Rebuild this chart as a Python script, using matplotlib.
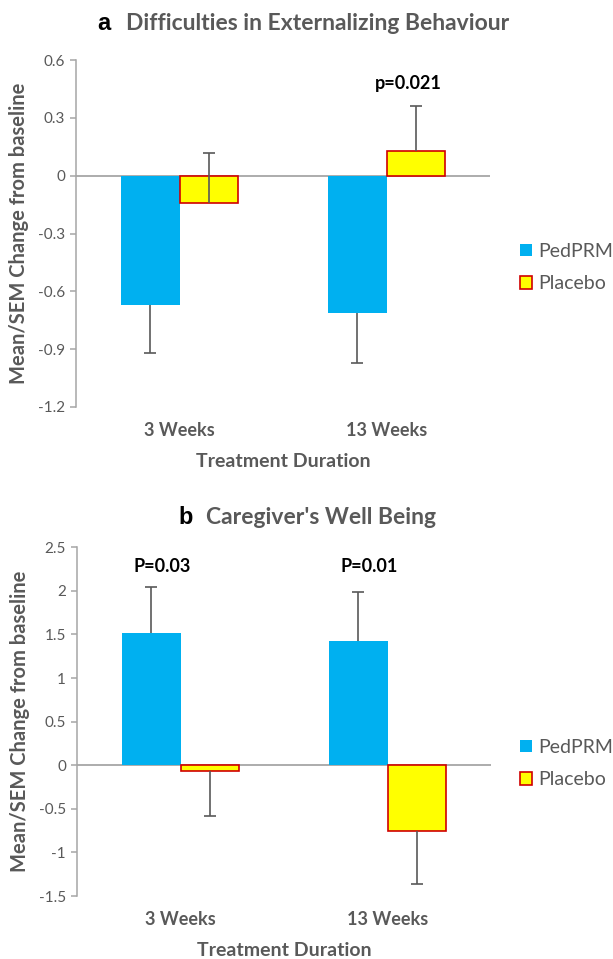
import numpy as np
import matplotlib
matplotlib.use("Agg")
import matplotlib.pyplot as plt
from matplotlib.ticker import FuncFormatter

plt.rcParams["font.family"] = ["Lato", "DejaVu Sans"]
plt.rcParams["axes.unicode_minus"] = False

# --- datos ---
weeks = ["3 Weeks", "13 Weeks"]
groups = ["PedPRM", "Placebo"]

# panel a: Difficulties in Externalizing Behaviour
ext_ped = [-0.67, -0.71]
ext_ped_sem = [0.25, 0.26]
ext_plac = [-0.14, 0.13]
ext_plac_sem = [0.26, 0.23]
ext_p = ["", "p=0.021"]

# panel b: Caregiver's Well Being
care_ped = [1.52, 1.43]
care_ped_sem = [0.52, 0.56]
care_plac = [-0.07, -0.75]
care_plac_sem = [0.51, 0.61]
care_p = ["P=0.03", "P=0.01"]

blue = "#00B0F0"
yellow = "#FFFF00"
red = "#D00000"
grey_txt = "#595959"
grey_ax = "#A6A6A6"
err_col = "#595959"

W, H = 613, 959
fig = plt.figure(figsize=(W / 100, H / 100), dpi=100)


def err_one_side(ax, xs, vals, sem, sign):
    # barra de error solo hacia un lado (como en Excel), con tapa solo en el extremo
    vals = np.array(vals)
    sem = np.array(sem)
    lo = sem * (sign < 0)
    hi = sem * (sign > 0)
    ax.errorbar(xs, vals, yerr=[lo, hi], fmt="none", ecolor=err_col,
                elinewidth=1.2, capsize=0, zorder=3)
    ax.plot(xs, vals + sign * sem, ls="none", marker="_", ms=8, mew=1.2,
            color=err_col, zorder=3)


def panel(rect, ped, ped_sem, ped_dir, plac, plac_sem, plac_dir,
          yticks, ylim, pvals, px, py):
    ax = fig.add_axes(rect)
    x = np.arange(len(weeks))
    w = 0.285
    b1 = ax.bar(x - w / 2, ped, w, color=blue, edgecolor="none", label=groups[0], zorder=2)
    b2 = ax.bar(x + w / 2, plac, w, color=yellow, edgecolor=red, linewidth=1.2,
                label=groups[1], zorder=2)
    err_one_side(ax, x - w / 2, ped, ped_sem, ped_dir)
    err_one_side(ax, x + w / 2, plac, plac_sem, plac_dir)
    ax.axhline(0, color=grey_ax, lw=1.3, zorder=1)

    ax.set_xlim(-0.5, 1.5)
    ax.set_ylim(*ylim)
    ax.set_yticks(yticks)
    ax.yaxis.set_major_formatter(FuncFormatter(lambda v, pos: "%g" % round(v, 2)))
    ax.set_xticks(x)
    ax.set_xticklabels(weeks, fontsize=13, fontweight="bold", color=grey_txt)
    ax.tick_params(axis="x", length=0, pad=11)
    ax.tick_params(axis="y", length=4, width=1.1, color=grey_ax, labelsize=11,
                   labelcolor=grey_txt, pad=4)
    for s in ["top", "right", "bottom"]:
        ax.spines[s].set_visible(False)
    ax.spines["left"].set_color(grey_ax)
    ax.spines["left"].set_linewidth(1.1)

    ax.set_xlabel("Treatment Duration", fontsize=14, fontweight="bold",
                  color=grey_txt, labelpad=10)
    ax.set_ylabel("Mean/SEM Change from baseline", fontsize=14.5, fontweight="bold",
                  color=grey_txt)
    ax.yaxis.set_label_coords(-0.113, 0.5)

    for t, xx in zip(pvals, px):
        if t:
            ax.text(xx, py, t, ha="center", va="center", fontsize=13,
                    fontweight="bold", color="black")
    return ax, b1, b2


# --- panel a ---
ax1, b1, b2 = panel([76 / W, 1 - 407 / H, 414 / W, 347 / H],
                    ext_ped, ext_ped_sem, np.array([-1, -1]),
                    ext_plac, ext_plac_sem, np.array([1, 1]),
                    np.arange(-1.2, 0.61, 0.3), (-1.2, 0.6), ext_p, [0, 1.104], 0.48)
fig.text(97 / W, 1 - 24 / H, "a", fontsize=17, fontweight="bold", color="black",
         family="Liberation Sans", ha="left", va="center")
fig.text(126 / W, 1 - 24 / H, "Difficulties in Externalizing Behaviour", fontsize=16.5,
         fontweight="bold", color=grey_txt, ha="left", va="center")
ax1.legend(handles=[b1, b2], loc="center left", bbox_to_anchor=(520 / W, 1 - 267.5 / H),
           bbox_transform=fig.transFigure, frameon=False, fontsize=14,
           handlelength=0.6, handleheight=0.6, handletextpad=0.35,
           labelspacing=0.8, borderpad=0, borderaxespad=0, labelcolor=grey_txt)

# --- panel b ---
ax2, b3, b4 = panel([77 / W, 1 - 896 / H, 414 / W, 348.7 / H],
                    care_ped, care_ped_sem, np.array([1, 1]),
                    care_plac, care_plac_sem, np.array([-1, -1]),
                    np.arange(-1.5, 2.51, 0.5), (-1.5, 2.5), care_p, [-0.089, 0.91], 2.28)
fig.text(178 / W, 1 - 518 / H, "b", fontsize=17, fontweight="bold", color="black",
         family="Liberation Sans", ha="left", va="center")
fig.text(206 / W, 1 - 518 / H, "Caregiver's Well Being", fontsize=16.5,
         fontweight="bold", color=grey_txt, ha="left", va="center")
ax2.legend(handles=[b3, b4], loc="center left", bbox_to_anchor=(520 / W, 1 - 763.5 / H),
           bbox_transform=fig.transFigure, frameon=False, fontsize=14,
           handlelength=0.6, handleheight=0.6, handletextpad=0.35,
           labelspacing=0.8, borderpad=0, borderaxespad=0, labelcolor=grey_txt)

fig.savefig("out.png", dpi=100)
